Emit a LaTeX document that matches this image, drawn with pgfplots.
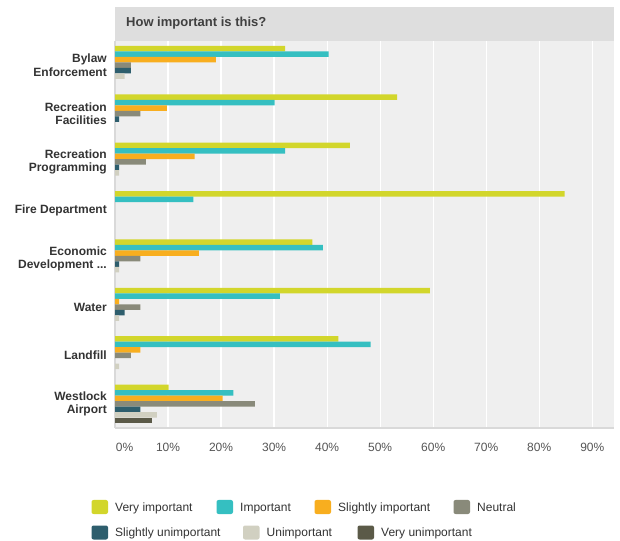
\documentclass[border=0pt]{standalone}
\usepackage{pgfplots}
\pgfplotsset{compat=1.18}
\usepackage{fontspec}
\setmainfont{Liberation Sans}
\definecolor{cVI}{HTML}{D2D62B}
\definecolor{cI}{HTML}{35BFC1}
\definecolor{cSI}{HTML}{F8AE1F}
\definecolor{cN}{HTML}{898A7A}
\definecolor{cSU}{HTML}{2E5E6D}
\definecolor{cU}{HTML}{D1D0C1}
\definecolor{cVU}{HTML}{5B5A48}
\definecolor{plotbg}{HTML}{EFEFEF}
\definecolor{headbg}{HTML}{DEDEDE}
\definecolor{axisc}{HTML}{D9D9D9}
\definecolor{titlec}{HTML}{404040}
\definecolor{labc}{HTML}{333333}
\definecolor{tickc}{HTML}{555555}
\begin{document}
\begin{tikzpicture}[x=1pt,y=1pt]
\path[use as bounding box] (0,0) rectangle (620,540);
\fill[headbg] (115,499) rectangle (614,533);
\node[anchor=west, font=\fontsize{13}{15}\selectfont\bfseries, text=titlec, inner sep=0pt] at (126,517) {How important is this?};
\begin{axis}[
  at={(115pt,112pt)}, anchor=south west,
  scale only axis, width=499pt, height=387pt,
  xbar, bar width=5.4pt,
  xmin=0, xmax=94.1, ymin=-0.5, ymax=7.5,
  axis background/.style={fill=plotbg},
  axis x line*=bottom, axis y line*=left,
  axis line style={draw=axisc, line width=1.5pt, -},
  xtick={0,10,20,30,40,50,60,70,80,90},
  xticklabels={\hspace*{19pt}0\%,10\%,20\%,30\%,40\%,50\%,60\%,70\%,80\%,90\%},
  xmajorgrids, grid style={white, line width=1.2pt},
  major tick length=0pt,
  xticklabel style={font=\fontsize{12}{14}\selectfont, text=tickc, inner sep=0pt, yshift=-15pt},
  ytick={0,1,2,3,4,5,6,7},
  yticklabels={{Westlock\\Airport}, {Landfill}, {Water}, {Economic\\Development {.}{.}{.}}, {Fire Department}, {Recreation\\Programming}, {Recreation\\Facilities}, {Bylaw\\Enforcement}},
  yticklabel style={font=\fontsize{12}{13.5}\selectfont\bfseries, text=labc, align=right, inner sep=0pt, xshift=-8pt},
  every axis plot/.append style={draw=none},
  clip=false,
]
% Very important
\addplot[fill=cVI, bar shift=16.5pt] coordinates {(32.1,7) (53.2,6) (44.3,5) (84.8,4) (37.2,3) (59.4,2) (42.1,1) (10.1,0)};
% Important
\addplot[fill=cI, bar shift=11pt] coordinates {(40.3,7) (30.1,6) (32.1,5) (14.8,4) (39.2,3) (31.1,2) (48.2,1) (22.3,0)};
% Slightly important
\addplot[fill=cSI, bar shift=5.5pt] coordinates {(19.0,7) (9.8,6) (15.0,5) (15.8,3) (0.8,2) (4.8,1) (20.3,0)};
% Neutral
\addplot[fill=cN, bar shift=0pt] coordinates {(3.0,7) (4.8,6) (5.8,5) (4.8,3) (4.8,2) (3.0,1) (26.4,0)};
% Slightly unimportant
\addplot[fill=cSU, bar shift=-5.5pt] coordinates {(3.0,7) (0.8,6) (0.8,5) (0.8,3) (1.8,2) (4.8,0)};
% Unimportant
\addplot[fill=cU, bar shift=-11pt] coordinates {(1.8,7) (0.8,5) (0.8,3) (0.8,2) (0.8,1) (7.9,0)};
% Very unimportant
\addplot[fill=cVU, bar shift=-16.5pt] coordinates {(6.9,0)};
\end{axis}
% legend
\begin{scope}[every node/.style={anchor=base west, inner sep=0pt, font=\fontsize{12}{14}\selectfont, text=labc}]
\fill[cVI, rounded corners=2pt] (91.5,26) rectangle ++(16.5,14);
\node at (115,28.7) {Very important};
\fill[cI, rounded corners=2pt] (216.5,26) rectangle ++(16.5,14);
\node at (240,28.7) {Important};
\fill[cSI, rounded corners=2pt] (314.5,26) rectangle ++(16.5,14);
\node at (338,28.7) {Slightly important};
\fill[cN, rounded corners=2pt] (453.5,26) rectangle ++(16.5,14);
\node at (477,28.7) {Neutral};
\fill[cSU, rounded corners=2pt] (91.5,0.5) rectangle ++(16.5,14);
\node at (115,3.2) {Slightly unimportant};
\fill[cU, rounded corners=2pt] (243,0.5) rectangle ++(16.5,14);
\node at (266.5,3.2) {Unimportant};
\fill[cVU, rounded corners=2pt] (357.5,0.5) rectangle ++(16.5,14);
\node at (381,3.2) {Very unimportant};
\end{scope}
\end{tikzpicture}
\end{document}
